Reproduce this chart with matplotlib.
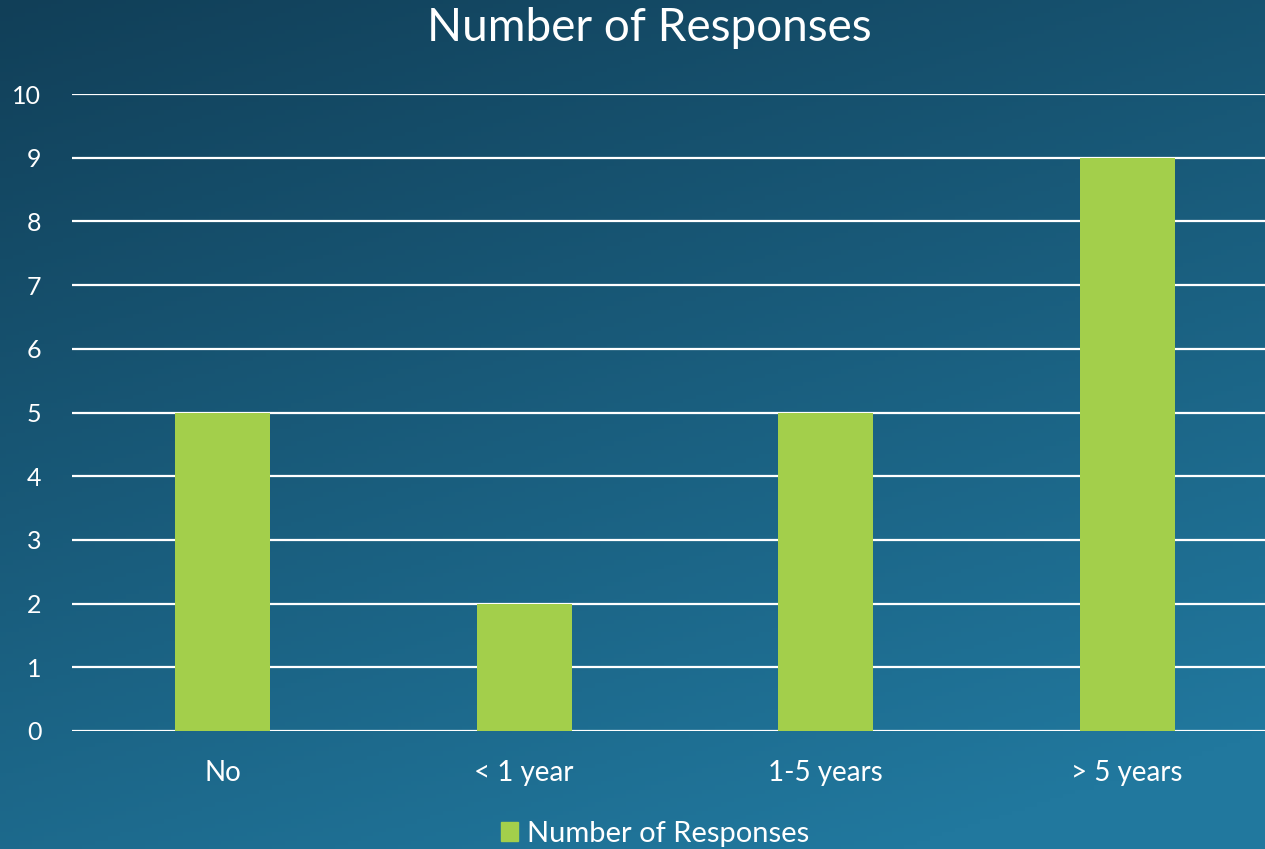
import numpy as np
import matplotlib.pyplot as plt
from matplotlib.patches import Patch

# 数据
categories = ['No', '< 1 year', '1-5 years', '> 5 years']
responses = [5, 2, 5, 9]
series_name = 'Number of Responses'

plt.rcParams['font.family'] = ['Lato', 'DejaVu Sans']

fig = plt.figure(figsize=(12.65, 8.49), dpi=100)

# 背景渐变
bg = fig.add_axes([0, 0, 1, 1], zorder=-10)
xx, yy = np.meshgrid(np.linspace(0, 1, 200), np.linspace(0, 1, 200))
t = np.clip(0.35 * xx + 0.75 * yy, 0, 1)
c0 = np.array([0x11, 0x3f, 0x58]) / 255
c1 = np.array([0x21, 0x78, 0x9e]) / 255
img = c0[None, None, :] * (1 - t[..., None]) + c1[None, None, :] * t[..., None]
bg.imshow(img, extent=[0, 1, 0, 1], aspect='auto', origin='upper')
bg.axis('off')

ax = fig.add_axes([72 / 1265, (849 - 731) / 849, (1265 - 72) / 1265, (731 - 94) / 849])
ax.patch.set_alpha(0)
x = np.arange(len(categories))
ax.bar(x, responses, width=0.315, color='#a3cf4b', zorder=3)

ax.set_ylim(0, 10)
ax.set_xlim(-0.5, 3.457)
ax.set_yticks(range(0, 11))
ax.yaxis.grid(True, color='white', linewidth=1.6, zorder=1)
ax.set_axisbelow(True)
for s in ax.spines.values():
    s.set_visible(False)
ax.tick_params(axis='both', length=0, colors='white')
ax.tick_params(axis='y', labelsize=18, pad=22)
ax.tick_params(axis='x', labelsize=20, pad=21)
ax.set_xticks(x)
ax.set_xticklabels(categories)

fig.text(649 / 1265, 1 - 28 / 849, 'Number of Responses', color='white',
         fontsize=33, ha='center', va='center')

fig.legend(handles=[Patch(color='#a3cf4b', label=series_name)],
           loc='center', bbox_to_anchor=(655 / 1265, 1 - 834 / 849),
           frameon=False, fontsize=21, labelcolor='white',
           handlelength=0.6, handleheight=0.6, handletextpad=0.3)

fig.savefig('out.png', dpi=100)
